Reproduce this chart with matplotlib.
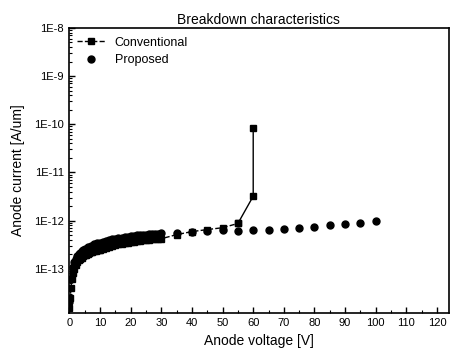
import matplotlib
matplotlib.use("Agg")
import matplotlib.pyplot as plt
from matplotlib.ticker import MultipleLocator, LogLocator, FixedLocator

plt.rcParams['font.family'] = ['Liberation Sans', 'DejaVu Sans']

# conventional device: dense sweep 0-30 V, then every 5 V up to breakdown at 60 V
conv_v = [0, 0.25, 0.5, 0.75, 1, 1.5, 2, 2.5, 3, 3.5, 4, 4.5, 5, 5.5, 6, 6.5, 7, 7.5, 8, 8.5, 9, 9.5, 10,
          11, 12, 13, 14, 15, 16, 17, 18, 19, 20, 21, 22, 23, 24, 25, 26, 27, 28, 29, 30,
          35, 40, 45, 50, 55]
conv_i = [1.5e-14, 2.5e-14, 4.0e-14, 6.0e-14, 8.0e-14, 1.0e-13, 1.2e-13, 1.35e-13, 1.5e-13, 1.6e-13,
          1.7e-13, 1.8e-13, 1.9e-13, 1.97e-13, 2.05e-13, 2.12e-13, 2.2e-13, 2.25e-13, 2.3e-13, 2.35e-13,
          2.4e-13, 2.45e-13, 2.5e-13, 2.62e-13, 2.75e-13, 2.87e-13, 3.0e-13, 3.1e-13, 3.2e-13, 3.3e-13,
          3.4e-13, 3.48e-13, 3.56e-13, 3.64e-13, 3.72e-13, 3.8e-13, 3.87e-13, 3.94e-13, 4.0e-13,
          4.06e-13, 4.12e-13, 4.17e-13, 4.2e-13,
          5.1e-13, 5.9e-13, 6.5e-13, 7.1e-13, 8.7e-13]
# breakdown jump at 60 V
brk_v = [55, 60, 60]
brk_i = [8.7e-13, 3.2e-12, 8.3e-11]

# proposed device
prop_v = [0, 0.5, 1, 1.5, 2, 2.5, 3, 3.5, 4, 4.5, 5, 6, 7, 8, 9, 10,
          11, 12, 13, 14, 15, 16, 17, 18, 19, 20, 21, 22, 23, 24, 25, 26, 27, 28, 29, 30,
          35, 40, 45, 50, 55, 60, 65, 70, 75, 80, 85, 90, 95, 100]
prop_i = [2.0e-14, 6.0e-14, 1.1e-13, 1.4e-13, 1.6e-13, 1.8e-13, 2.0e-13, 2.15e-13, 2.3e-13, 2.45e-13,
          2.6e-13, 2.8e-13, 3.0e-13, 3.2e-13, 3.35e-13, 3.5e-13,
          3.65e-13, 3.8e-13, 3.95e-13, 4.1e-13, 4.2e-13, 4.3e-13, 4.4e-13, 4.5e-13, 4.6e-13, 4.7e-13,
          4.8e-13, 4.9e-13, 4.95e-13, 5.0e-13, 5.1e-13, 5.2e-13, 5.25e-13, 5.3e-13, 5.35e-13, 5.4e-13,
          5.5e-13, 5.8e-13, 6.2e-13, 6.5e-13, 6.2e-13, 6.5e-13, 6.5e-13, 6.8e-13, 7.1e-13, 7.5e-13,
          7.9e-13, 8.3e-13, 8.7e-13, 1.0e-12]

ytick_vals = [1e-13, 1e-12, 1e-11, 1e-10, 1e-9, 1e-8]
ytick_labels = ["1E-13", "1E-12", "1E-11", "1E-10", "1E-9", "1E-8"]

fig = plt.figure(figsize=(4.51, 3.57), dpi=100)
ax = fig.add_axes([0.152, 0.123, 0.844, 0.799])

ax.plot(conv_v, conv_i, '--', color='black', lw=1.0, marker='s', markersize=5,
        label='Conventional')
ax.plot(brk_v, brk_i, '-', color='black', lw=1.0, marker='s', markersize=5)
ax.plot(prop_v, prop_i, 'o', color='black', markersize=5, label='Proposed')

ax.set_yscale('log')
ax.set_ylim(1.2e-14, 1e-8)
ax.set_xlim(-0.3, 124)
ax.xaxis.set_major_locator(MultipleLocator(10))
ax.xaxis.set_minor_locator(MultipleLocator(5))
ax.yaxis.set_major_locator(FixedLocator(ytick_vals))
ax.set_yticklabels(ytick_labels)
ax.yaxis.set_minor_locator(LogLocator(base=10, subs=range(2, 10), numticks=20))
ax.tick_params(which='both', direction='in', top=False, right=False, labelsize=8)
ax.tick_params(which='major', length=4, width=1)
ax.tick_params(which='minor', length=2, width=0.8)
for s in ax.spines.values():
    s.set_linewidth(1.2)

ax.set_title("Breakdown characteristics", fontsize=10, pad=3)
ax.set_xlabel("Anode voltage [V]", fontsize=10)
ax.set_ylabel("Anode current [A/um]", fontsize=10, labelpad=6)
ax.legend(loc='upper left', frameon=False, fontsize=9, handlelength=2.2,
          borderaxespad=0.3, labelspacing=0.45)

fig.savefig("out.png", dpi=100)
